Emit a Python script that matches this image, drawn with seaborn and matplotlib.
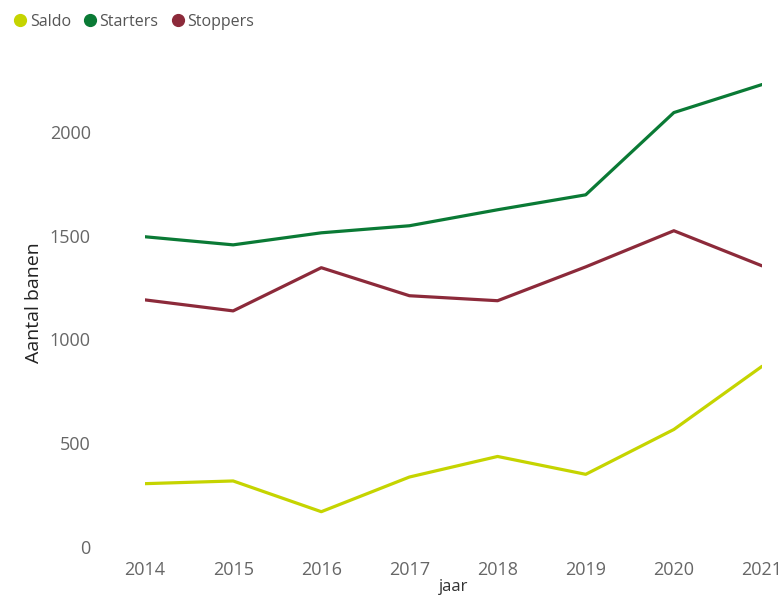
import seaborn as sns
import matplotlib.pyplot as plt
from matplotlib.lines import Line2D
import pandas as pd

years = [2014, 2015, 2016, 2017, 2018, 2019, 2020, 2021]
saldo = [305, 318, 170, 337, 436, 350, 566, 870]
starters = [1494, 1455, 1513, 1547, 1624, 1696, 2092, 2227]
stoppers = [1190, 1137, 1345, 1210, 1186, 1349, 1523, 1354]

series = ['Saldo', 'Starters', 'Stoppers']
colors = {'Saldo': '#c5d400', 'Starters': '#0a7a35', 'Stoppers': '#8c2a3a'}

df = pd.DataFrame({'jaar': years, 'Saldo': saldo, 'Starters': starters, 'Stoppers': stoppers})
long = df.melt(id_vars='jaar', var_name='reeks', value_name='Aantal banen')

sns.set_style("white")
plt.rcParams['font.family'] = ['Open Sans', 'DejaVu Sans']

fig = plt.figure(figsize=(7.83, 5.98), dpi=100)
ax = fig.add_axes([145 / 783, 1 - 547 / 598, (762 - 145) / 783, (547 - 59) / 598])

sns.lineplot(data=long, x='jaar', y='Aantal banen', hue='reeks', hue_order=series,
             palette=colors, linewidth=2.3, ax=ax, legend=False)

ax.set_xlim(2014, 2021)
ax.set_ylim(0, 2350)
ax.set_xticks(years)
ax.set_yticks([0, 500, 1000, 1500, 2000])
ax.tick_params(axis='both', length=0, labelsize=13, labelcolor='#666666')
ax.tick_params(axis='x', pad=10)
ax.tick_params(axis='y', pad=39)
ax.set_ylabel('Aantal banen', fontsize=14, color='#222222', labelpad=5)
ax.set_xlabel('jaar', fontsize=12, color='#333333', labelpad=0)
sns.despine(ax=ax, left=True, bottom=True)

handles = [Line2D([0], [0], marker='o', linestyle='', markersize=8.5,
                  markerfacecolor=colors[s], markeredgecolor=colors[s]) for s in series]
fig.legend(handles, series, loc='upper left', bbox_to_anchor=(-0.012, 1.0), ncol=3,
           frameon=False, handletextpad=-0.4, columnspacing=0.2, fontsize=11.5,
           labelcolor='#555555', borderaxespad=0.45)

fig.savefig('out.png', dpi=100)
